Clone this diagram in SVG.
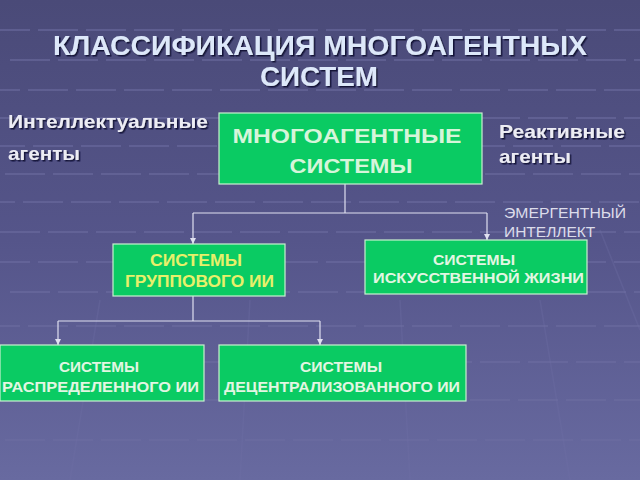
<svg xmlns="http://www.w3.org/2000/svg" width="640" height="480" viewBox="0 0 640 480">
<defs>
<linearGradient id="bg" x1="0" y1="0" x2="0" y2="1">
<stop offset="0" stop-color="#4a4a78"/>
<stop offset="0.5" stop-color="#55558a"/>
<stop offset="1" stop-color="#686aa0"/>
</linearGradient>
<marker id="arr" viewBox="0 0 6 6" refX="6" refY="3" markerWidth="6" markerHeight="6" orient="auto" markerUnits="userSpaceOnUse">
<path d="M0,0 L6,3 L0,6 Z" fill="#e0e0f0"/>
</marker>
<filter id="sh" x="-5%" y="-20%" width="110%" height="140%">
<feDropShadow dx="1.5" dy="1.5" stdDeviation="0.6" flood-color="#101030" flood-opacity="0.9"/>
</filter>
</defs>
<style>
.box{fill:#0acb63;stroke:#c8f0d0;stroke-width:1.2}
.bt{font-family:"Liberation Sans",Arial,sans-serif;font-weight:bold;fill:#e2f6e2;text-anchor:middle}
.side{font-family:"Liberation Sans",Arial,sans-serif;font-weight:bold;font-size:19px;fill:#ececf4}
.grid{stroke:#6e6ea2;stroke-width:2;stroke-dasharray:40 8;opacity:0.55}
.vg{stroke:#7070a6;stroke-width:1.5;opacity:0.3}
.con{fill:none;stroke:#e0e0f0;stroke-width:1.2}
</style>
<rect width="640" height="480" fill="url(#bg)"/>
<g class="grid">
<line x1="-10" y1="30" x2="640" y2="30"/>
<line x1="10" y1="60" x2="640" y2="60"/>
<line x1="-20" y1="90" x2="640" y2="90"/>
<line x1="0" y1="118" x2="640" y2="118"/>
<line x1="-15" y1="146" x2="640" y2="146"/>
<line x1="5" y1="174" x2="640" y2="174"/>
<line x1="-25" y1="202" x2="640" y2="202"/>
<line x1="0" y1="232" x2="640" y2="232"/>
<line x1="-10" y1="262" x2="640" y2="262"/>
<line x1="10" y1="292" x2="640" y2="292"/>
<line x1="-20" y1="326" x2="640" y2="326"/>
<line x1="0" y1="362" x2="640" y2="362"/>
<line x1="-10" y1="400" x2="640" y2="400"/>
<line x1="5" y1="440" x2="640" y2="440"/>
</g>
<g class="vg">
<line x1="100" y1="300" x2="70" y2="480"/>
<line x1="250" y1="300" x2="240" y2="480"/>
<line x1="400" y1="300" x2="410" y2="480"/>
<line x1="540" y1="300" x2="570" y2="480"/>
<line x1="600" y1="230" x2="640" y2="330"/>
</g>
<g id="title" font-family="Liberation Sans,Arial,sans-serif" font-weight="bold" font-size="28" fill="#dde8fa" text-anchor="middle" filter="url(#sh)">
<text x="320" y="55" textLength="534" lengthAdjust="spacingAndGlyphs">КЛАССИФИКАЦИЯ МНОГОАГЕНТНЫХ</text>
<text x="319" y="86" textLength="118" lengthAdjust="spacingAndGlyphs">СИСТЕМ</text>
</g>
<g id="intel" filter="url(#sh)">
<text class="side" x="8" y="128" textLength="200" lengthAdjust="spacingAndGlyphs">Интеллектуальные</text>
<text class="side" x="8" y="160" textLength="72" lengthAdjust="spacingAndGlyphs">агенты</text>
</g>
<g id="react" filter="url(#sh)">
<text class="side" x="499" y="138" textLength="126" lengthAdjust="spacingAndGlyphs">Реактивные</text>
<text class="side" x="499" y="163" textLength="72" lengthAdjust="spacingAndGlyphs">агенты</text>
</g>
<g id="emerg" font-family="Liberation Sans,Arial,sans-serif" font-size="15.5" fill="#dcdcea">
<text x="504" y="218" textLength="122" lengthAdjust="spacingAndGlyphs">ЭМЕРГЕНТНЫЙ</text>
<text x="504" y="237">ИНТЕЛЛЕКТ</text>
</g>
<g id="connectors">
<path class="con" d="M345,184 V213"/>
<path class="con" d="M193,213 H487"/>
<path class="con" d="M193,213 V244" marker-end="url(#arr)"/>
<path class="con" d="M487,213 V240" marker-end="url(#arr)"/>
<path class="con" d="M193,296 V321"/>
<path class="con" d="M58,321 H320"/>
<path class="con" d="M58,321 V345" marker-end="url(#arr)"/>
<path class="con" d="M320,321 V345" marker-end="url(#arr)"/>
</g>
<g id="mas">
<rect class="box" x="219" y="113" width="263" height="71"/>
<text class="bt" font-size="21" x="347" y="143" style="fill:#d6f5da" textLength="229" lengthAdjust="spacingAndGlyphs">МНОГОАГЕНТНЫЕ</text>
<text class="bt" font-size="21" x="351" y="173" style="fill:#d6f5da" textLength="123" lengthAdjust="spacingAndGlyphs">СИСТЕМЫ</text>
</g>
<g id="group">
<rect class="box" x="113" y="244" width="172" height="52"/>
<text class="bt" font-size="16" x="196" y="266" style="fill:#e8f06a" textLength="92" lengthAdjust="spacingAndGlyphs">СИСТЕМЫ</text>
<text class="bt" font-size="16" x="199.5" y="287" style="fill:#e8f06a" textLength="149" lengthAdjust="spacingAndGlyphs">ГРУППОВОГО ИИ</text>
</g>
<g id="alife">
<rect class="box" x="365" y="240" width="222" height="54"/>
<text class="bt" font-size="15" x="474" y="265" textLength="82" lengthAdjust="spacingAndGlyphs">СИСТЕМЫ</text>
<text class="bt" font-size="15" x="478.5" y="283" textLength="211" lengthAdjust="spacingAndGlyphs">ИСКУССТВЕННОЙ ЖИЗНИ</text>
</g>
<g id="distr">
<rect class="box" x="0" y="345" width="204" height="56"/>
<text class="bt" font-size="15" x="99" y="372" textLength="80" lengthAdjust="spacingAndGlyphs">СИСТЕМЫ</text>
<text class="bt" font-size="15" x="100.5" y="392" textLength="197" lengthAdjust="spacingAndGlyphs">РАСПРЕДЕЛЕННОГО ИИ</text>
</g>
<g id="decentr">
<rect class="box" x="219" y="345" width="247" height="56"/>
<text class="bt" font-size="15" x="341" y="372" textLength="82" lengthAdjust="spacingAndGlyphs">СИСТЕМЫ</text>
<text class="bt" font-size="15" x="342" y="392" textLength="236" lengthAdjust="spacingAndGlyphs">ДЕЦЕНТРАЛИЗОВАННОГО ИИ</text>
</g>
</svg>
